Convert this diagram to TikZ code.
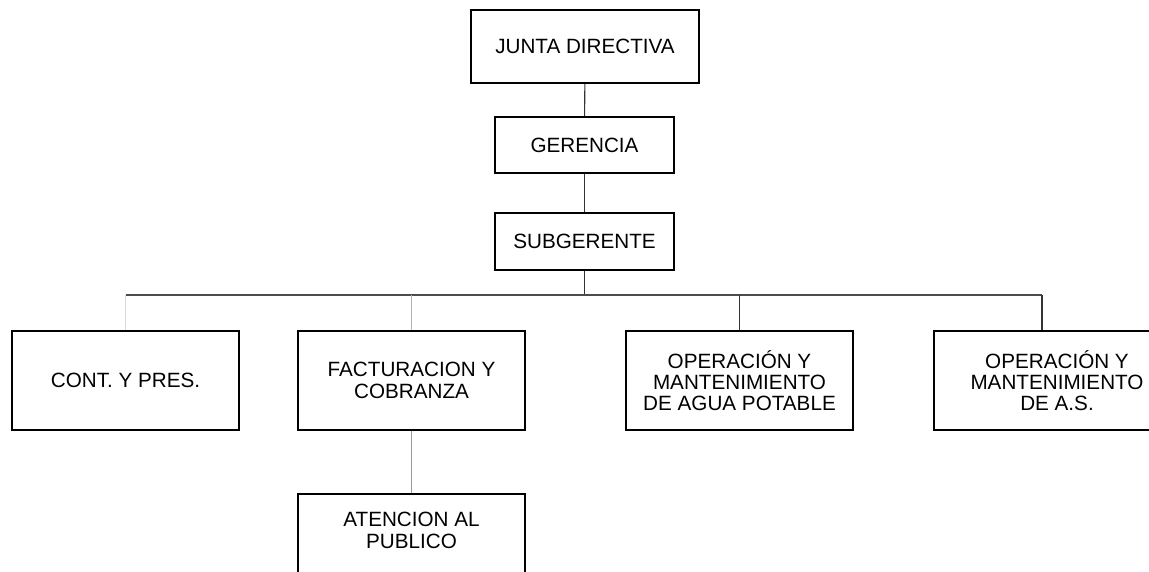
\documentclass[tikz,border=0pt]{standalone}
\usepackage{fontspec}
\setmainfont{Liberation Sans}

\begin{document}
\begin{tikzpicture}[x=0.75pt, y=-0.75pt, font=\fontsize{15.5}{16}\selectfont,
  box/.style={draw, rectangle, line width=1.5pt, align=center, inner sep=2pt},
  dept/.style={box, minimum width=170.25pt, minimum height=74.25pt},
  link/.style={line width=0.8pt, color=black!80},
  bus/.style={line width=1.1pt, color=black!70},
  faint/.style={line width=0.6pt, color=black!30}]
\useasboundingbox (0,0) rectangle (1149,571);
\clip (0,0) rectangle (1149,571);
\node (1)[box, minimum width=171pt, minimum height=54.75pt] at (585,46.5) {JUNTA DIRECTIVA};
\node (2)[box, minimum width=134.25pt, minimum height=42pt] at (584.5,145) {GERENCIA};
\node (3)[box, minimum width=134.25pt, minimum height=42.75pt] at (584.5,241.5) {SUBGERENTE};
\node (4)[dept] at (125.5,380.5) {CONT. Y PRES.};
\node (5)[dept] at (411.5,380.5) {FACTURACION Y\\COBRANZA};
\node (6)[dept] at (739.5,380.5) {OPERACIÓN Y\\MANTENIMIENTO\\DE AGUA POTABLE};
\node (7)[dept, minimum width=184.5pt] at (1057,380.5) {OPERACIÓN Y\\MANTENIMIENTO\\DE A.S.};
\node (8)[dept, text depth=20pt] at (411.5,543.5) {ATENCION AL\\PUBLICO};
\coordinate (l) at (125.5,295);
\coordinate (r) at (1042,295);
\path (1) edge[link] (2)
      (2) edge[link] (3);
\draw[link] (3) -- (3 |- l);
\draw[bus] (l) -- (r);
\draw[faint, color=black!15] (4.north |- l) -- (4);
\draw[faint] (5.north |- l) -- (5);
\draw[link] (6.north |- l) -- (6);
\draw[link] (r) -- (r |- 7.north);
\draw[faint, color=black!40] (5) -- (8);
\end{tikzpicture}
\end{document}
